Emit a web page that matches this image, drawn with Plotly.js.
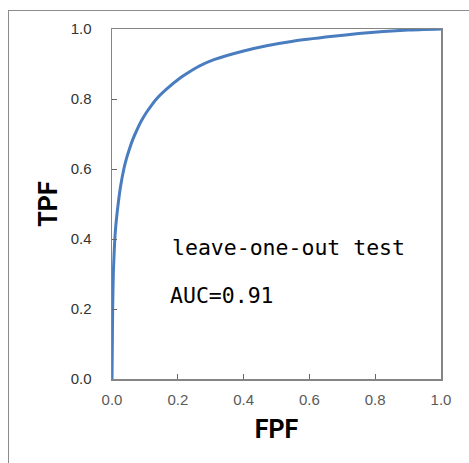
<!DOCTYPE html>
<html>
<head>
<meta charset="utf-8">
<script src="https://cdn.plot.ly/plotly-3.0.1.min.js"></script>
<style>
html,body{margin:0;padding:0;background:#fff;}
#wrap{position:relative;width:469px;height:463px;overflow:hidden;}
#frame{position:absolute;left:8px;top:10px;width:480px;height:480px;border:1.5px solid #8c8c8c;box-sizing:border-box;}
#chart{position:absolute;left:0;top:0;width:469px;height:463px;}
</style>
</head>
<body>
<div id="wrap"><div id="frame"></div><div id="chart"></div></div>
<script>
// ROC curve
const fpf = [0, 0.002, 0.004, 0.007, 0.01, 0.015, 0.02, 0.026, 0.036, 0.043, 0.054, 0.063, 0.075, 0.089, 0.105, 0.12, 0.135, 0.163, 0.21, 0.236, 0.265, 0.312, 0.4, 0.47, 0.55, 0.672, 0.75, 0.825, 0.9, 1.0];
const tpf = [0, 0.2, 0.3, 0.37, 0.42, 0.47, 0.51, 0.55, 0.6, 0.627, 0.66, 0.684, 0.71, 0.737, 0.762, 0.782, 0.8, 0.826, 0.862, 0.878, 0.894, 0.913, 0.937, 0.952, 0.965, 0.979, 0.987, 0.993, 0.997, 1.0];
const tickVals = [0, 0.2, 0.4, 0.6, 0.8, 1.0];
const tickText = ["0.0", "0.2", "0.4", "0.6", "0.8", "1.0"];
const xTitle = "FPF";
const yTitle = "TPF";
const noteLines = ["leave-one-out test", "AUC=0.91"];
const notePos = [[0.175, 0.375], [0.169, 0.238]];

const trace = {
  x: fpf, y: tpf, type: 'scatter', mode: 'lines',
  line: {color: '#4a7dbf', width: 3, shape: 'spline', smoothing: 0.6},
  hoverinfo: 'skip'
};

const axisBase = {
  range: [0, 1], tickvals: tickVals, ticktext: tickText,
  showgrid: false, zeroline: false,
  showline: true, mirror: true, linecolor: '#858585', linewidth: 1.5,
  ticks: 'inside', ticklen: 5, tickcolor: '#666', tickwidth: 1
};

const layout = {
  width: 469, height: 463,
  margin: {l: 112, r: 28, t: 29, b: 84},
  paper_bgcolor: 'rgba(0,0,0,0)', plot_bgcolor: '#fff',
  showlegend: false,
  xaxis: Object.assign({}, axisBase, {
    tickfont: {family: 'Liberation Sans, Arial', size: 15, color: '#5a5a5a'},
    ticklabelstandoff: 6,
    title: {text: xTitle, font: {family: 'Roboto', size: 25, color: '#000', weight: 'bold'}, standoff: 14}
  }),
  yaxis: Object.assign({}, axisBase, {
    tickfont: {family: 'Liberation Sans, Arial', size: 15, color: '#333'},
    ticklabelstandoff: 16,
    title: {text: yTitle, font: {family: 'Roboto', size: 25, color: '#000', weight: 'bold'}, standoff: 6}
  }),
  annotations: noteLines.map((t, i) => ({
    text: t, x: notePos[i][0], y: notePos[i][1], xref: 'x', yref: 'y',
    xanchor: 'left', yanchor: 'middle', showarrow: false,
    font: {family: 'DejaVu Sans Mono', size: 21.5, color: '#000'}
  }))
};

Plotly.newPlot('chart', [trace], layout, {staticPlot: true, displayModeBar: false});
</script>
</body>
</html>
